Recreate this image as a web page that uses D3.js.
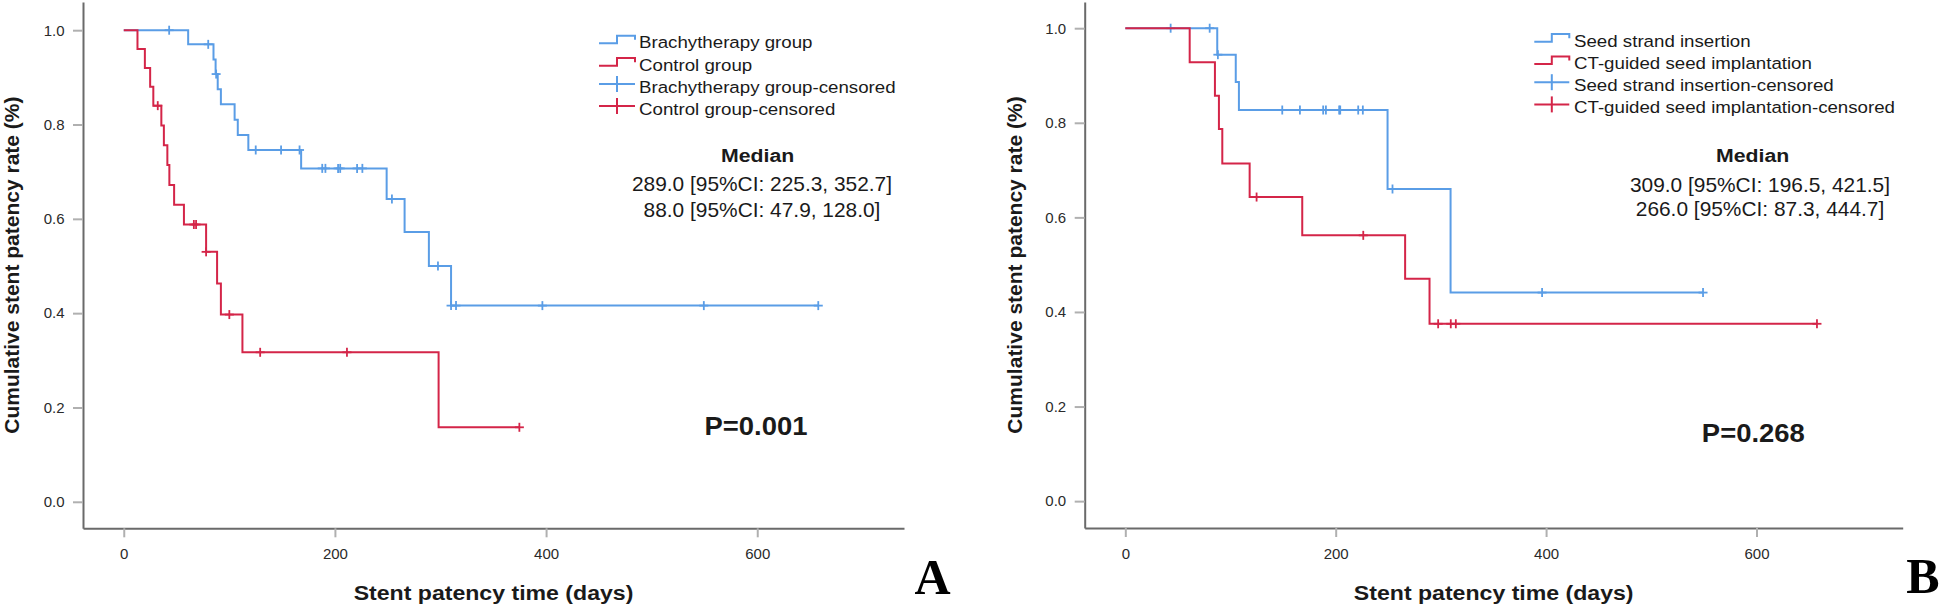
<!DOCTYPE html>
<html><head><meta charset="utf-8">
<script src="https://cdn.jsdelivr.net/npm/d3@7"></script>
<style>body{margin:0;background:#fff}svg{display:block}</style>
</head><body>
<svg id="c" width="1944" height="605"></svg>
<script>
// ---------- data ----------
const xTicks = [0, 200, 400, 600];
const yTicks = [0.0, 0.2, 0.4, 0.6, 0.8, 1.0];
const yTickLabels = ["0.0", "0.2", "0.4", "0.6", "0.8", "1.0"];

// Panel A: Brachytherapy group
const brachyEventT = [61, 85, 87, 89, 92, 105, 108, 118, 168, 249, 266, 289, 310];
const brachyEventS = [0.970, 0.938, 0.907, 0.875, 0.843, 0.810, 0.778, 0.746, 0.707, 0.642, 0.572, 0.500, 0.416];
const brachyCensorT = [43, 80, 87.5, 125, 149, 166.5, 188, 191, 203, 205, 221, 226, 254, 297.6, 310, 314.7, 396.5, 549.4, 657.8];
const brachyEnd = 657.8;

// Panel A: Control group
const ctrlEventT = [13, 20, 25, 28, 35.6, 38, 41.3, 43.2, 47.7, 57, 78, 88.4, 92, 112.4, 298.2];
const ctrlEventS = [0.960, 0.920, 0.880, 0.840, 0.798, 0.756, 0.714, 0.672, 0.630, 0.588, 0.530, 0.463, 0.397, 0.317, 0.158];
const ctrlCensorT = [32.2, 66.4, 68.5, 78, 100, 129.2, 211.4, 374.7];
const ctrlEnd = 374.7;

// Panel B: Seed strand insertion
const seedEventT = [87.4, 105, 108, 249.3, 309.2];
const seedEventS = [0.944, 0.886, 0.827, 0.660, 0.441];
const seedCensorT = [43.1, 80.2, 88, 149.2, 166, 188.1, 190.7, 203.3, 204.3, 221.4, 225.8, 254, 396.2, 549.2];
const seedEnd = 549.2;

// Panel B: CT-guided seed implantation
const ctEventT = [61.2, 85.2, 89, 92.2, 118.2, 168.2, 266, 289.2];
const ctEventS = [0.928, 0.857, 0.787, 0.714, 0.643, 0.562, 0.470, 0.375];
const ctCensorT = [124.8, 226.2, 297.4, 309.4, 314.2, 657.5];
const ctEnd = 657.5;

const legendA = ["Brachytherapy group", "Control group", "Brachytherapy group-censored", "Control group-censored"];
const legendB = ["Seed strand insertion", "CT-guided seed implantation", "Seed strand insertion-censored", "CT-guided seed implantation-censored"];
const medianA = ["289.0 [95%CI: 225.3, 352.7]", "88.0 [95%CI: 47.9, 128.0]"];
const medianB = ["309.0 [95%CI: 196.5, 421.5]", "266.0 [95%CI: 87.3, 444.7]"];
const pA = "P=0.001", pB = "P=0.268";

// ---------- styles ----------
const BLUE = "#5a9de6", RED = "#d42548";
const SANS = "'Liberation Sans', Arial, sans-serif";
const SERIF = "'Liberation Serif', 'Times New Roman', serif";
const svg = d3.select("#c");

function sText(x, y, str, opts) {
  const g = svg.append("g").attr("transform", `translate(${x},${y}) scale(${opts.sx || 1},1)`);
  return g.append("text").text(str)
    .attr("font-family", opts.family || SANS)
    .attr("font-size", opts.size)
    .attr("font-weight", opts.weight || "normal")
    .attr("text-anchor", opts.anchor || "start")
    .attr("fill", opts.fill || "#1a1a1a");
}

function drawPanel(cfg) {
  const x = d3.scaleLinear().domain([-38.6, 739]).range([cfg.left, cfg.right]);
  const y = d3.scaleLinear().domain(cfg.yDomain).range([cfg.bottom, cfg.top]);

  // axes
  const xa = svg.append("g").attr("transform", `translate(0,${cfg.bottom})`)
    .call(d3.axisBottom(x).tickValues(xTicks).tickFormat(d3.format("d")).tickSize(9).tickSizeOuter(0).tickPadding(11));
  const ya = svg.append("g").attr("transform", `translate(${cfg.left},0)`)
    .call(d3.axisLeft(y).tickValues(yTicks).tickFormat((d, i) => yTickLabels[i]).tickSize(10).tickSizeOuter(0).tickPadding(8.5));
  [xa, ya].forEach(a => {
    a.select(".domain").attr("stroke", "#6a6a6a").attr("stroke-width", 2);
    a.selectAll(".tick line").attr("stroke", "#b0b0b0").attr("stroke-width", 2);
    a.selectAll(".tick text").attr("font-family", SANS).attr("font-size", 15).attr("fill", "#2a2a2a");
  });

  const line = d3.line().x(d => x(d[0])).y(d => y(d[1])).curve(d3.curveStepAfter);
  cfg.series.forEach(s => {
    const pts = [[0, 1]];
    s.t.forEach((t, i) => pts.push([t, s.s[i]]));
    pts.push([s.end, s.s[s.s.length - 1]]);
    svg.append("path").attr("d", line(pts)).attr("fill", "none")
      .attr("stroke", s.color).attr("stroke-width", 2);
    const survAt = t => { let v = 1; s.t.forEach((et, i) => { if (et <= t) v = s.s[i]; }); return v; };
    const cg = svg.append("g").attr("stroke", s.color).attr("stroke-width", 1.8);
    s.c.forEach(t => {
      const cx = x(t), cy = y(survAt(t));
      cg.append("line").attr("x1", cx).attr("x2", cx).attr("y1", cy - 4.5).attr("y2", cy + 4.5);
      cg.append("line").attr("x1", cx - 4.5).attr("x2", cx + 4.5).attr("y1", cy).attr("y2", cy);
    });
  });

  // legend
  const L = cfg.legend;
  const lg = svg.append("g");
  cfg.legendLabels.forEach((lab, i) => {
    const b = L.base[i];
    const col = i % 2 === 0 ? BLUE : RED;
    const x0 = L.x0, x1 = L.x1, xm = (x0 + x1) / 2;
    if (i < 2) {
      lg.append("path").attr("d", `M${x0},${b - 5}H${xm}V${b - 12.6}H${x1}V${b - 8.5}`)
        .attr("fill", "none").attr("stroke", col).attr("stroke-width", 2);
    } else {
      lg.append("line").attr("x1", x0).attr("x2", x1).attr("y1", b - 9).attr("y2", b - 9).attr("stroke", col).attr("stroke-width", 2);
      lg.append("line").attr("x1", xm).attr("x2", xm).attr("y1", b - 17).attr("y2", b - 1).attr("stroke", col).attr("stroke-width", 2);
    }
    sText(L.tx, b, lab, { size: 17, sx: 1.1 });
  });

  // median block
  sText(cfg.median.hx, cfg.median.hy, "Median", { size: 19, weight: "bold", anchor: "middle", sx: 1.12 });
  cfg.medianLines.forEach((m, i) => sText(cfg.median.lx, cfg.median.ly[i], m, { size: 20, anchor: "middle", sx: 1.045 }));
  sText(cfg.p.x, cfg.p.y, cfg.pText, { size: 26, weight: "bold", anchor: "middle", sx: 1.055 });

  // axis titles
  sText((cfg.left + cfg.right) / 2, 600, "Stent patency time (days)", { size: 21, weight: "bold", anchor: "middle", sx: 1.1 });
  svg.append("text").text("Cumulative stent patency rate (%)")
    .attr("transform", `translate(${cfg.ytx},${(cfg.top + cfg.bottom) / 2}) rotate(-90)`)
    .attr("font-family", SANS).attr("font-size", 21).attr("font-weight", "bold")
    .attr("text-anchor", "middle").attr("dy", "0.36em").attr("fill", "#1a1a1a");

  // panel letter
  sText(cfg.letter.x, cfg.letter.y, cfg.letterText, { size: 50, weight: "bold", anchor: "middle", family: SERIF, fill: "#000" });
}

drawPanel({
  left: 83, right: 904, top: 2, bottom: 528.3, yDomain: [-0.0562, 1.0598],
  series: [
    { t: brachyEventT, s: brachyEventS, c: brachyCensorT, end: brachyEnd, color: BLUE },
    { t: ctrlEventT, s: ctrlEventS, c: ctrlCensorT, end: ctrlEnd, color: RED }
  ],
  legendLabels: legendA,
  legend: { x0: 599, x1: 635, tx: 639, base: [48.3, 70.7, 92.9, 115.1] },
  medianLines: medianA,
  median: { hx: 757.7, hy: 162.3, lx: 762, ly: [191, 217.3] },
  pText: pA, p: { x: 756, y: 435 },
  ytx: 11, letterText: "A", letter: { x: 932.5, y: 594 }
});

drawPanel({
  left: 1084.7, right: 1902.7, top: 2, bottom: 528, yDomain: [-0.0568, 1.0554],
  series: [
    { t: seedEventT, s: seedEventS, c: seedCensorT, end: seedEnd, color: BLUE },
    { t: ctEventT, s: ctEventS, c: ctCensorT, end: ctEnd, color: RED }
  ],
  legendLabels: legendB,
  legend: { x0: 1534.3, x1: 1569.3, tx: 1574, base: [46.7, 69, 91.2, 113.4] },
  medianLines: medianB,
  median: { hx: 1752.7, hy: 161.7, lx: 1760, ly: [192.3, 216] },
  pText: pB, p: { x: 1753.3, y: 442.3 },
  ytx: 1014, letterText: "B", letter: { x: 1923, y: 593 }
});
</script>
</body></html>
